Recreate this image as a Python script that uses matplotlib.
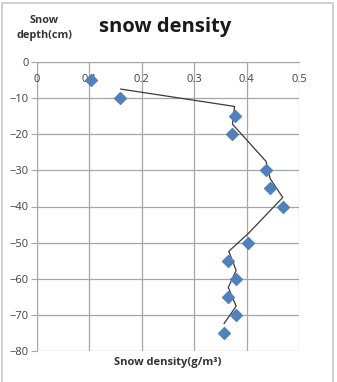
import matplotlib
matplotlib.use("Agg")
import matplotlib.pyplot as plt
from matplotlib.patches import Rectangle

# Data
depth = [-5, -10, -15, -20, -30, -35, -40, -50, -55, -60, -65, -70, -75]
density = [0.103, 0.158, 0.377, 0.373, 0.437, 0.445, 0.469, 0.403, 0.365, 0.380, 0.365, 0.380, 0.357]

# Trend line (moving-average style) vertices
trend_depth = [-7.5, -12.3, -17.2, -27.5, -32.3, -37.5, -47.5, -52.4, -57.7, -62.4, -67.6, -72.4]
trend_density = [0.160, 0.377, 0.373, 0.437, 0.445, 0.469, 0.403, 0.366, 0.380, 0.365, 0.380, 0.357]

x_ticks = [0, 0.1, 0.2, 0.3, 0.4, 0.5]
x_tick_labels = ["0", "0.1", "0.2", "0.3", "0.4", "0.5"]
y_ticks = [0, -10, -20, -30, -40, -50, -60, -70, -80]

W, H = 337, 382
fig = plt.figure(figsize=(W / 100, H / 100), dpi=100)
plt.rcParams['font.family'] = ['Open Sans', 'DejaVu Sans']

# chart border
fig.patches.append(Rectangle((2 / W, -0.5), 331 / W, 1.5 - 3 / H, transform=fig.transFigure,
                             fill=False, edgecolor='#c8c8c8', linewidth=1.2))

left, right = 37 / W, 299 / W
top, bottom = 1 - 62 / H, 1 - 351 / H
ax = fig.add_axes([left, bottom, right - left, top - bottom])
ax.set_xlim(0, 0.5)
ax.set_ylim(-80, 0)

grid_c = '#a6a6a6'
for s in ax.spines.values():
    s.set_visible(False)
ax.spines['top'].set_visible(True)
ax.spines['top'].set_color(grid_c)
ax.spines['left'].set_visible(True)
ax.spines['left'].set_color(grid_c)
ax.grid(True, color=grid_c, linewidth=0.9)
ax.set_axisbelow(True)

ax.set_xticks(x_ticks)
ax.set_xticklabels([])
ax.set_yticks(y_ticks)
ax.tick_params(axis='x', length=0)
ax.tick_params(axis='y', length=4, color=grid_c, labelsize=8, labelcolor='#404040', pad=2)

for xv, lab in zip(x_ticks, x_tick_labels):
    ax.annotate(lab, (xv, 0), xytext=(0, -18), textcoords='offset pixels',
                ha='center', va='center', fontsize=8, color='#404040')

ax.plot(trend_density, trend_depth, color='#3a3a3a', linewidth=0.9, zorder=3)
ax.scatter(density, depth, marker='D', s=36, color='#4f81bd', edgecolors='#4f81bd', zorder=4)

fig.text(165 / W, 1 - 27 / H, "snow density", ha='center', va='center',
         fontsize=14.5, fontweight='bold', color='#1a1a1a')
fig.text(44 / W, 1 - 28 / H, "Snow\ndepth(cm)", ha='center', va='center',
         fontsize=7.8, fontweight='bold', color='#333333', linespacing=1.4)
fig.text(168 / W, 1 - 362 / H, "Snow density(g/m³)", ha='center', va='center',
         fontsize=8, fontweight='bold', color='#333333')

fig.savefig("out.png", dpi=100)
